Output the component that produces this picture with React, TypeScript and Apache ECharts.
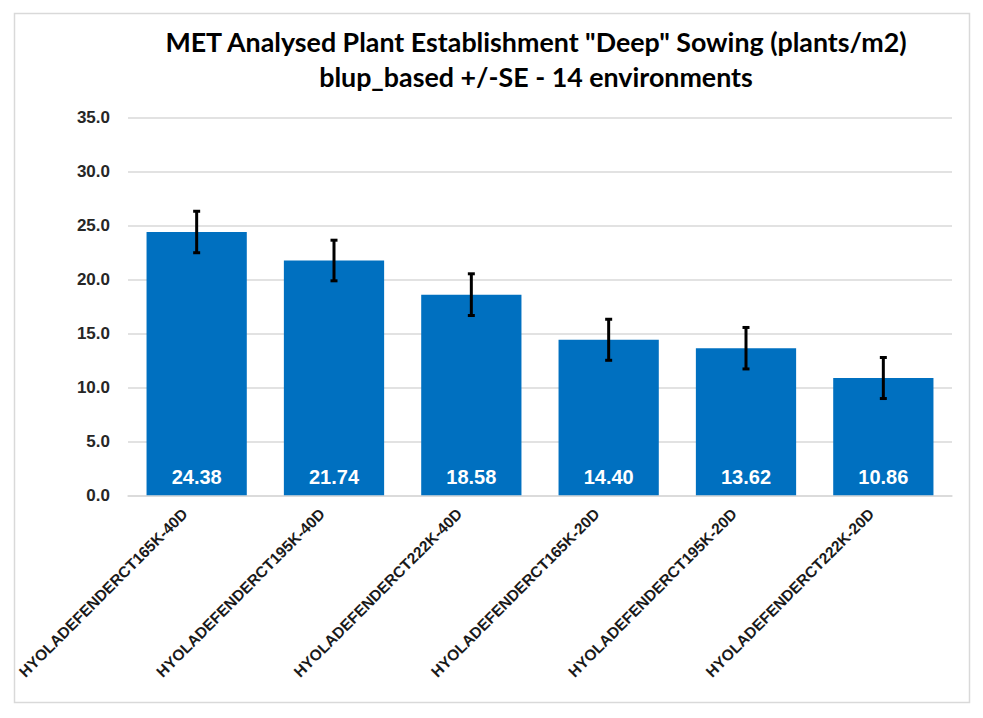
import * as echarts from "echarts";
import { useEffect, useRef } from "react";

const categories = [
  "HYOLADEFENDERCT165K-40D",
  "HYOLADEFENDERCT195K-40D",
  "HYOLADEFENDERCT222K-40D",
  "HYOLADEFENDERCT165K-20D",
  "HYOLADEFENDERCT195K-20D",
  "HYOLADEFENDERCT222K-20D",
];
const means = [24.38, 21.74, 18.58, 14.4, 13.62, 10.86];
const stdErrors = [1.92, 1.88, 1.93, 1.9, 1.92, 1.9];
const titleLines = [
  'MET Analysed Plant Establishment "Deep" Sowing (plants/m2)',
  "blup_based +/-SE - 14 environments",
];

const FONT = "'Liberation Sans', Arial, sans-serif";

export default function App() {
  const chartRef = useRef<HTMLDivElement>(null);

  useEffect(() => {
    const chart = echarts.init(chartRef.current, null, { renderer: "svg" });

    const errData = means.map((m, i) => [i, m - stdErrors[i], m + stdErrors[i]]);

    chart.setOption({
      animation: false,
      backgroundColor: "#ffffff",
      title: {
        text: titleLines.join("\n"),
        left: 531,
        top: 19,
        textAlign: "center",
        textStyle: {
          fontFamily: "Lato, sans-serif",
          fontWeight: "bold",
          fontSize: 26.8,
          lineHeight: 35,
          color: "#000000",
        },
      },
      graphic: [
        {
          type: "rect",
          shape: { x: 14.5, y: 13.5, width: 955, height: 689 },
          style: { fill: "none", stroke: "#D9D9D9", lineWidth: 1.5 },
          silent: true,
        },
      ],
      grid: { left: 128, right: 31, top: 117.3, bottom: 222.7 },
      xAxis: {
        type: "category",
        data: categories,
        axisTick: { show: false },
        axisLine: { lineStyle: { color: "#D9D9D9", width: 1.5 } },
        axisLabel: {
          rotate: 45,
          interval: 0,
          margin: 4,
          padding: [0, 17, 0, 0],
          fontFamily: FONT,
          fontWeight: "bold",
          fontSize: 15.5,
          color: "#1a1a1a",
        },
      },
      yAxis: {
        type: "value",
        min: 0,
        max: 35,
        interval: 5,
        axisLine: { show: false },
        axisTick: { show: false },
        splitLine: { lineStyle: { color: "#D9D9D9", width: 1.5 } },
        axisLabel: {
          margin: 18,
          formatter: (v: number) => v.toFixed(1),
          fontFamily: FONT,
          fontWeight: "bold",
          fontSize: 17,
          color: "#262626",
        },
      },
      series: [
        {
          type: "bar",
          data: means,
          barCategoryGap: "27%",
          itemStyle: { color: "#0070C0" },
          label: {
            show: true,
            position: "insideBottom",
            distance: 8,
            formatter: (p: any) => Number(p.value).toFixed(2),
            fontFamily: FONT,
            fontWeight: "bold",
            fontSize: 20,
            color: "#ffffff",
          },
        },
        {
          type: "custom",
          data: errData,
          z: 10,
          renderItem: (_params: any, api: any) => {
            const x = api.value(0);
            const lo = api.coord([x, api.value(1)]);
            const hi = api.coord([x, api.value(2)]);
            const cap = 3.5;
            const style = { stroke: "#000000", lineWidth: 3 };
            return {
              type: "group",
              children: [
                { type: "line", shape: { x1: hi[0], y1: hi[1], x2: lo[0], y2: lo[1] }, style },
                { type: "line", shape: { x1: hi[0] - cap, y1: hi[1], x2: hi[0] + cap, y2: hi[1] }, style },
                { type: "line", shape: { x1: lo[0] - cap, y1: lo[1], x2: lo[0] + cap, y2: lo[1] }, style },
              ],
            };
          },
        },
      ],
    });

    return () => {
      chart.dispose();
    };
  }, []);

  return (
    <div
      ref={chartRef}
      style={{ position: "fixed", left: 0, top: 0, width: 983, height: 718 }}
    ></div>
  );
}
